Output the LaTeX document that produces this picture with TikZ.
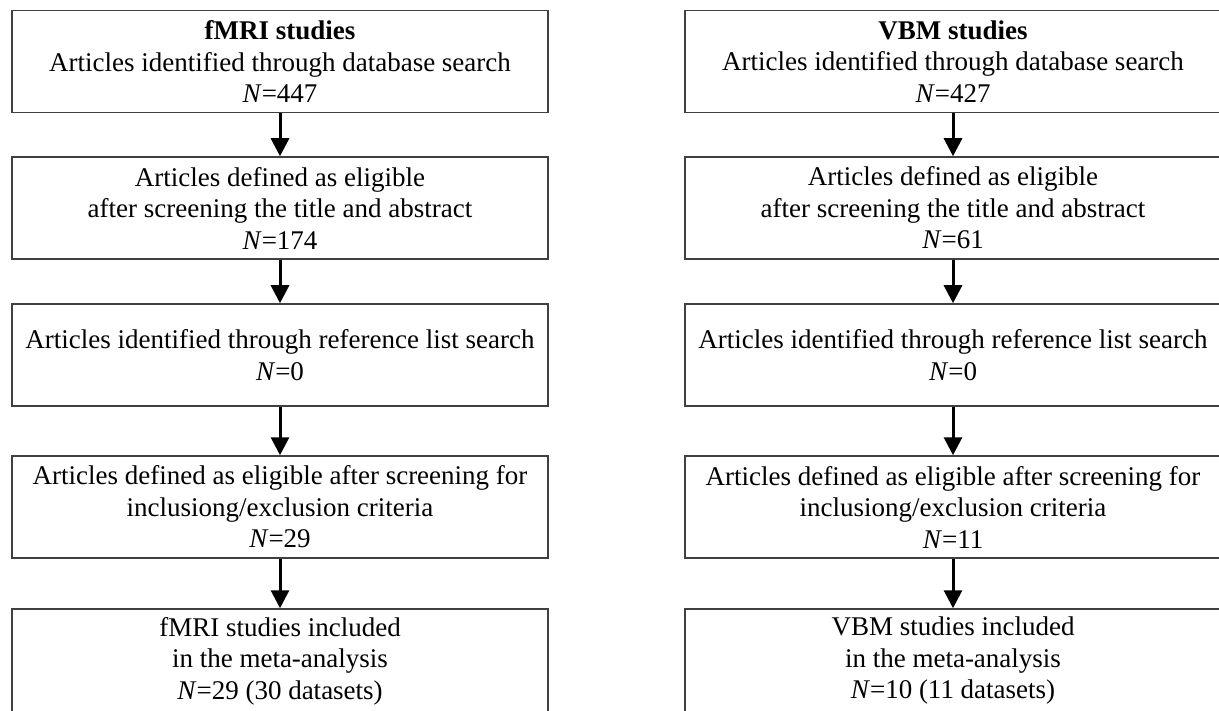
\documentclass[tikz,border=0pt]{standalone}
\usepackage{fontspec}
\setmainfont{Liberation Serif}
\usetikzlibrary{arrows.meta}
\tikzset{stagebox/.style={rectangle, draw=black!75, line width=1.5pt, fill=white,
      minimum width=536pt, minimum height=102pt, inner sep=0pt, align=center,
      font=\fontsize{27}{31.5}\selectfont}}
\tikzset{flowarrow/.style={line width=3pt, -{Triangle[width=18pt,length=18pt]}}}

\begin{document}
\begin{tikzpicture}[x=1pt, y=-1pt]
    \useasboundingbox (0,0) rectangle (1219,711);
    % fMRI column
    \node[stagebox] (fmriSearch) at (280,61.5) {\textbf{fMRI studies}\\Articles identified through database search\\\textit{N}=447};
    \node[stagebox] (fmriScreen) at (280,208) {Articles defined as eligible\\after screening the title and abstract\\\textit{N}=174};
    \node[stagebox] (fmriRef) at (280,355) {Articles identified through reference list search\\\textit{N}=0};
    \node[stagebox] (fmriElig) at (280,507) {Articles defined as eligible after screening for\\inclusiong/exclusion criteria\\\textit{N}=29};
    \node[stagebox, minimum height=104pt] (fmriIncl) at (280,661) {fMRI studies included\\in the meta-analysis\\\textit{N}=29 (30 datasets)};
    \draw[flowarrow] (fmriSearch) -- (fmriScreen);
    \draw[flowarrow] (fmriScreen) -- (fmriRef);
    \draw[flowarrow] (fmriRef) -- (fmriElig);
    \draw[flowarrow] (fmriElig) -- (fmriIncl);
    % VBM column
    \node[stagebox] (vbmSearch) at (953,61.5) {\textbf{VBM studies}\\Articles identified through database search\\\textit{N}=427};
    \node[stagebox] (vbmScreen) at (953,208) {Articles defined as eligible\\after screening the title and abstract\\\textit{N}=61};
    \node[stagebox] (vbmRef) at (953,355) {Articles identified through reference list search\\\textit{N}=0};
    \node[stagebox] (vbmElig) at (953,507) {Articles defined as eligible after screening for\\inclusiong/exclusion criteria\\\textit{N}=11};
    \node[stagebox, minimum height=104pt] (vbmIncl) at (953,661) {VBM studies included\\in the meta-analysis\\\textit{N}=10 (11 datasets)};
    \draw[flowarrow] (vbmSearch) -- (vbmScreen);
    \draw[flowarrow] (vbmScreen) -- (vbmRef);
    \draw[flowarrow] (vbmRef) -- (vbmElig);
    \draw[flowarrow] (vbmElig) -- (vbmIncl);
\end{tikzpicture}
\end{document}
